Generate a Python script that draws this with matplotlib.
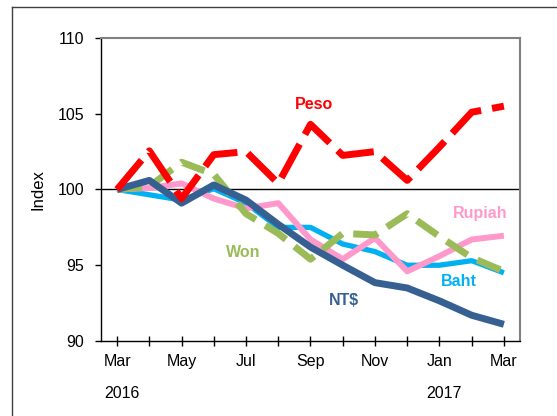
import matplotlib
matplotlib.use("Agg")
import matplotlib.pyplot as plt
from matplotlib.lines import Line2D

plt.rcParams['font.family'] = ['Liberation Sans', 'DejaVu Sans']

months = ['Mar', 'Apr', 'May', 'Jun', 'Jul', 'Aug', 'Sep', 'Oct', 'Nov', 'Dec', 'Jan', 'Feb', 'Mar']
tick_labels = ['Mar', '', 'May', '', 'Jul', '', 'Sep', '', 'Nov', '', 'Jan', '', 'Mar']
years = [(0, '2016'), (10, '2017')]

peso = [100.0, 102.55, 99.4, 102.3, 102.5, 100.4, 104.3, 102.25, 102.5, 100.6, 102.8, 105.1, 105.5]
won = [100.0, 100.2, 101.8, 101.0, 98.4, 97.1, 95.4, 97.1, 97.0, 98.4, 96.9, 95.5, 94.6]
rupiah = [100.0, 100.1, 100.4, 99.4, 98.75, 99.1, 96.7, 95.4, 96.8, 94.6, 95.6, 96.7, 96.95]
baht = [100.0, 99.65, 99.3, 100.05, 99.1, 97.5, 97.5, 96.4, 95.9, 95.0, 95.0, 95.3, 94.5]
ntd = [100.0, 100.6, 99.1, 100.3, 99.3, 97.7, 96.2, 95.0, 93.85, 93.5, 92.65, 91.7, 91.1]

labels = [('Peso', 6.1, 105.6, '#FF0000'),
          ('Won', 3.92, 95.85, '#9BBB59'),
          ('Rupiah', 11.25, 98.4, '#FF99CC'),
          ('Baht', 10.6, 93.9, '#00B0F0'),
          ('NT$', 7.03, 92.7, '#376092')]

fig = plt.figure(figsize=(5.57, 4.16), dpi=100)
ax = fig.add_axes([0.1813, 0.1803, 0.7523, 0.7284])

x = list(range(len(months)))
ax.axhline(100, color='black', lw=1.0, xmin=0, xmax=0.995, zorder=1)
ax.plot(x, baht, color='#00B0F0', lw=3.8, solid_capstyle='butt', zorder=2)
ax.plot(x, rupiah, color='#FF99CC', lw=4.3, solid_capstyle='butt', zorder=3)
ax.plot(x, won, color='#9BBB59', lw=5, dashes=(3.6, 1.6), dash_capstyle='butt', zorder=4)
ax.plot(x, ntd, color='#376092', lw=5, solid_capstyle='butt', zorder=5)
ax.plot(x, peso, color='#FF0000', lw=5, dashes=(5.5, 1.6), dash_capstyle='butt', zorder=6)

for t, lx, ly, c in labels:
    ax.text(lx, ly, t, color=c, fontsize=11.5, fontweight='bold', ha='center', va='center')

ax.set_xlim(-0.5, 12.5)
ax.set_ylim(90, 110)
ax.set_yticks([90, 95, 100, 105, 110])
ax.set_xticks(x)
ax.set_xticklabels(tick_labels)
ax.tick_params(axis='y', direction='out', length=4, width=1, pad=8, labelsize=11.5)
ax.tick_params(axis='x', direction='inout', length=7, width=1, pad=6, labelsize=11.5)
ax.set_ylabel('Index', fontsize=12, labelpad=9)

for xi, yr in years:
    ax.text(xi + 0.15, -0.172, yr, transform=ax.get_xaxis_transform(), ha='center', va='center', fontsize=11.5)

for s in ['top', 'right']:
    ax.spines[s].set_color('#808080')
    ax.spines[s].set_linewidth(1.5)
for s in ['left', 'bottom']:
    ax.spines[s].set_color('black')
    ax.spines[s].set_linewidth(1.0)

fig.add_artist(Line2D([12/557, 12/557], [0, 1 - 7/416], color='#404040', lw=1.0, transform=fig.transFigure))
fig.add_artist(Line2D([12/557, 1], [1 - 7/416, 1 - 7/416], color='#404040', lw=1.0, transform=fig.transFigure))

fig.savefig('out.png', dpi=100)
